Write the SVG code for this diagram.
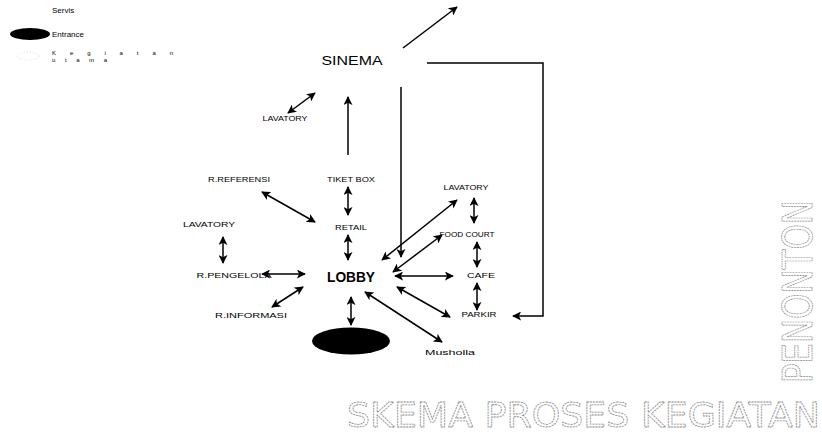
<svg xmlns="http://www.w3.org/2000/svg" width="822" height="436" viewBox="0 0 822 436">
<style>
.lbl{font-family:"Liberation Sans","DejaVu Sans",sans-serif;font-size:8px;fill:#000;text-anchor:middle}
.big{font-family:"Liberation Sans","DejaVu Sans",sans-serif;fill:#000;text-anchor:middle}
.leg{font-family:"Liberation Sans","DejaVu Sans",sans-serif;font-size:8px;fill:#000}
.legs{font-family:"Liberation Sans","DejaVu Sans",sans-serif;font-size:6px;fill:#000}
.ol{font-family:"DejaVu Sans","Liberation Sans",sans-serif;fill:#fff;stroke:#8a8a8a;stroke-width:0.8;stroke-dasharray:2 0.8}
.c{fill:none;stroke:#000;stroke-width:1.5}
.d{marker-start:url(#ah);marker-end:url(#ah)}
.s{marker-end:url(#ah)}
</style>
<defs>
<marker id="ah" viewBox="0 0 10 10" markerUnits="userSpaceOnUse" markerWidth="9" markerHeight="9" refX="9" refY="5" orient="auto-start-reverse">
<path d="M0,0 L10,5 L0,10 L2.5,5 z" fill="#000"/>
</marker>
</defs>
<rect width="822" height="436" fill="#fff"/>

<g id="legend">
<text class="leg" x="52" y="13">Servis</text>
<ellipse cx="30" cy="34" rx="20" ry="6" fill="#000"/>
<text class="leg" x="52" y="37">Entrance</text>
<ellipse cx="28" cy="56" rx="11" ry="4" fill="none" stroke="#d8d8d8" stroke-width="0.8" stroke-dasharray="1 2"/>
<text class="legs" x="52" y="55" textLength="121" lengthAdjust="spacing">K e g i a t a n</text>
<text class="legs" x="52" y="62" textLength="55" lengthAdjust="spacing">u t a m a</text>
</g>

<g id="connectors">
<path class="c s" d="M403,48 L457,7"/>
<path class="c s" d="M427,63 H543 V316 H513"/>
<path class="c s" d="M401,87 V257"/>
<path class="c s" d="M348,155 V97"/>
<path class="c d" d="M288,113 L315,93"/>
<path class="c d" d="M262,192 L315,222"/>
<path class="c d" d="M348,187 V215"/>
<path class="c d" d="M348,235 V260"/>
<path class="c d" d="M223,237 V263"/>
<path class="c d" d="M262,274 H305"/>
<path class="c d" d="M272,307 L303,287"/>
<path class="c d" d="M351,297 V325"/>
<path class="c d" d="M365,292 L442,342"/>
<path class="c d" d="M397,287 L450,317"/>
<path class="c d" d="M395,276 H453"/>
<path class="c d" d="M393,272 L442,235"/>
<path class="c d" d="M382,260 L457,200"/>
<path class="c d" d="M474,198 V223"/>
<path class="c d" d="M477,242 V267"/>
<path class="c d" d="M477,283 V310"/>
</g>

<g id="sinema"><text class="big" x="352" y="65" font-size="13" textLength="61" lengthAdjust="spacingAndGlyphs">SINEMA</text></g>
<g id="lavatory-1"><text class="lbl" x="285" y="121" textLength="45" lengthAdjust="spacingAndGlyphs">LAVATORY</text></g>
<g id="r-referensi"><text class="lbl" x="239" y="182" textLength="62" lengthAdjust="spacingAndGlyphs">R.REFERENSI</text></g>
<g id="tiket-box"><text class="lbl" x="351" y="182" textLength="48" lengthAdjust="spacingAndGlyphs">TIKET BOX</text></g>
<g id="retail"><text class="lbl" x="351" y="230" textLength="32" lengthAdjust="spacingAndGlyphs">RETAIL</text></g>
<g id="lavatory-2"><text class="lbl" x="209" y="227" textLength="52" lengthAdjust="spacingAndGlyphs">LAVATORY</text></g>
<g id="r-pengelola"><text class="lbl" x="234" y="278" textLength="75" lengthAdjust="spacingAndGlyphs">R.PENGELOLA</text></g>
<g id="lobby"><text class="big" x="351" y="282" font-size="14" font-weight="bold" textLength="48" lengthAdjust="spacingAndGlyphs">LOBBY</text></g>
<g id="r-informasi"><text class="lbl" x="251" y="318" textLength="72" lengthAdjust="spacingAndGlyphs">R.INFORMASI</text></g>
<g id="entrance"><ellipse cx="351" cy="341" rx="39" ry="13.5" fill="#000"/></g>
<g id="musholla"><text class="lbl" x="450" y="355" textLength="50" lengthAdjust="spacingAndGlyphs">Musholla</text></g>
<g id="parkir"><text class="lbl" x="479" y="317" textLength="35" lengthAdjust="spacingAndGlyphs">PARKIR</text></g>
<g id="cafe"><text class="lbl" x="481" y="278" textLength="28" lengthAdjust="spacingAndGlyphs">CAFE</text></g>
<g id="food-court"><text class="lbl" x="467" y="237" textLength="55" lengthAdjust="spacingAndGlyphs">FOOD COURT</text></g>
<g id="lavatory-3"><text class="lbl" x="466" y="190" textLength="45" lengthAdjust="spacingAndGlyphs">LAVATORY</text></g>

<g id="title">
<text class="ol" x="347" y="427" font-size="34" textLength="473" lengthAdjust="spacingAndGlyphs">SKEMA PROSES KEGIATAN</text>
<text class="ol" transform="translate(812,383) rotate(-90)" x="0" y="0" font-size="40" textLength="183" lengthAdjust="spacingAndGlyphs">PENONTON</text>
</g>
</svg>
